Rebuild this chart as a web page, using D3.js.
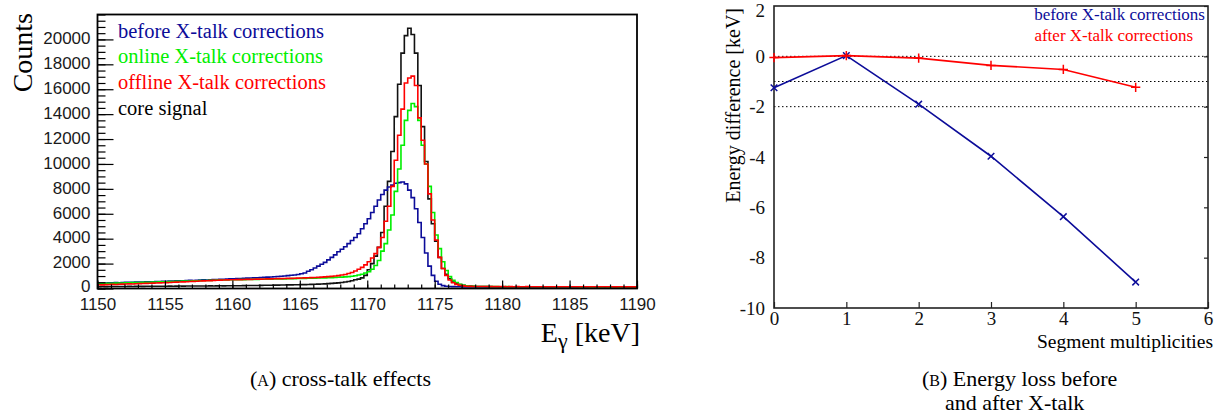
<!DOCTYPE html>
<html>
<head>
<meta charset="utf-8">
<script src="https://cdn.jsdelivr.net/npm/d3@7"></script>
<style>
    body { margin: 0; background: #fff; }
    svg { display: block; }
</style>
</head>
<body>
<svg id="chart" width="1223" height="418"></svg>
<script>
// histogram binning (keV)
const binStart = 1150;
const binWidth = 0.25;

// counts per bin
const countsBefore = [
    430, 440, 435, 450, 455, 470, 460, 480, 490, 500, 495, 510, 520, 515, 530, 545, 540, 560, 565, 580,
    575, 590, 600, 610, 620, 615, 640, 650, 645, 660, 670, 690, 680, 700, 710, 720, 730, 745, 760, 770,
    780, 790, 800, 810, 830, 840, 850, 865, 880, 895, 910, 925, 945, 960, 980, 1000, 1030, 1060, 1090, 1130,
    1180, 1250, 1380, 1500, 1650, 1800, 1950, 2100, 2300, 2500, 2700, 2950, 3150, 3350, 3600, 3850, 4100, 4400, 4800, 5200,
    5600, 6100, 6600, 7100, 7550, 7900, 8150, 8300, 8450, 8500, 8550, 8400, 7900, 7300, 6400, 5300, 4100, 2850, 1800, 1050,
    580, 340, 230, 180, 160, 150, 140, 135, 130, 130, 125, 125, 120, 120, 120, 115, 120, 115, 115, 110,
    110, 115, 110, 105, 110, 110, 105, 110, 105, 100, 105, 110, 105, 100, 105, 100, 100, 105, 100, 100,
    100, 95, 100, 100, 95, 100, 95, 95, 100, 95, 90, 95, 95, 90, 95, 90, 90, 95, 90, 90
];
const countsOnline = [
    400, 390, 410, 420, 415, 430, 440, 445, 450, 460, 470, 475, 480, 490, 500, 505, 515, 520, 530, 540,
    545, 555, 560, 570, 580, 590, 595, 605, 615, 620, 630, 640, 645, 655, 665, 670, 680, 685, 690, 700,
    700, 705, 710, 715, 720, 725, 730, 735, 740, 745, 750, 755, 760, 765, 770, 775, 780, 790, 795, 800,
    810, 815, 820, 830, 835, 840, 850, 855, 865, 875, 890, 900, 915, 930, 950, 980, 1020, 1080, 1150, 1250,
    1350, 1550, 1850, 2250, 3000, 3600, 4700, 5900, 7800, 9600, 11500, 13500, 14300, 14850, 14600, 13500, 11500, 10000, 8200, 6100,
    4300, 3200, 2150, 1450, 950, 650, 480, 340, 260, 210, 185, 170, 165, 160, 155, 155, 150, 150, 150, 145,
    145, 150, 145, 145, 140, 145, 140, 145, 140, 140, 145, 140, 140, 135, 140, 140, 135, 140, 135, 135,
    140, 135, 135, 130, 135, 135, 130, 135, 130, 130, 135, 130, 130, 130, 125, 130, 130, 125, 130, 125
];
const countsOffline = [
    300, 290, 310, 320, 330, 325, 340, 350, 360, 370, 365, 380, 395, 400, 410, 420, 430, 440, 450, 460,
    470, 480, 500, 510, 520, 530, 545, 560, 570, 585, 600, 610, 620, 635, 650, 660, 670, 680, 690, 700,
    705, 710, 715, 720, 730, 735, 740, 750, 755, 760, 770, 775, 780, 790, 795, 800, 810, 815, 820, 830,
    840, 850, 860, 870, 880, 895, 910, 930, 950, 970, 1000, 1030, 1080, 1130, 1200, 1280, 1400, 1550, 1700, 1900,
    2150, 2450, 2800, 3300, 4100, 5400, 6600, 8200, 10300, 12300, 14400, 16500, 16900, 17050, 16300, 13700, 11900, 10000, 7600, 5500,
    3900, 2500, 1600, 1050, 680, 460, 330, 260, 210, 185, 170, 165, 160, 160, 155, 155, 150, 150, 150, 150,
    150, 145, 150, 145, 150, 145, 145, 150, 145, 145, 140, 145, 145, 140, 145, 140, 140, 145, 140, 140,
    140, 140, 135, 140, 140, 135, 140, 135, 135, 140, 135, 135, 135, 130, 135, 135, 130, 135, 130, 130
];
const countsCore = [
    150, 155, 150, 160, 155, 160, 165, 160, 165, 170, 165, 170, 175, 170, 175, 180, 175, 180, 185, 180,
    185, 190, 185, 190, 195, 190, 195, 200, 195, 200, 205, 200, 205, 210, 205, 210, 215, 210, 215, 220,
    220, 225, 225, 230, 235, 235, 240, 245, 250, 255, 260, 265, 270, 275, 280, 285, 290, 295, 300, 305,
    310, 315, 320, 330, 340, 350, 360, 375, 390, 410, 430, 450, 480, 520, 560, 620, 700, 750, 850, 1050,
    1500, 2000, 2600, 3300, 4500, 6600, 8600, 11000, 13800, 16400, 18900, 20300, 20900, 20400, 18900, 16300, 13000, 10200, 7200, 5200,
    3800, 2500, 1600, 1150, 780, 520, 400, 310, 250, 210, 190, 175, 165, 160, 155, 150, 150, 145, 145, 140,
    140, 140, 135, 140, 135, 135, 140, 135, 135, 130, 135, 130, 130, 135, 130, 130, 130, 125, 130, 125,
    125, 130, 125, 125, 120, 125, 125, 120, 125, 120, 120, 125, 120, 120, 120, 115, 120, 120, 115, 120
];

const histLabels = ['before X-talk corrections', 'online X-talk corrections', 'offline X-talk corrections', 'core signal'];
const energyTicks = [1150, 1155, 1160, 1165, 1170, 1175, 1180, 1185, 1190];
const countTicks = [0, 2000, 4000, 6000, 8000, 10000, 12000, 14000, 16000, 18000, 20000];

// energy difference vs segment multiplicity
const multiplicities = [0, 1, 2, 3, 4, 5];
const diffBefore = [-1.25, 0.03, -1.9, -3.97, -6.37, -8.97];
const diffAfter = [-0.05, 0.03, -0.07, -0.36, -0.52, -1.23];
const refLevels = [0, -1, -2];
const multTicks = [0, 1, 2, 3, 4, 5, 6];
const diffTicks = [2, 0, -2, -4, -6, -8, -10];
const diffLabels = ['before X-talk corrections', 'after X-talk corrections'];

const BLUE = '#0c0c99';
const GREEN = '#00ee00';
const RED = '#ff0000';
const sans = '"Liberation Sans", Arial, sans-serif';
const serif = '"Liberation Serif", "Times New Roman", serif';
const plain = d => String(d);   // keep ASCII hyphen for negatives

const svg = d3.select('#chart');

// ---------- left panel ----------
const left = svg.append('g');
const xE = d3.scaleLinear().domain([1150, 1190]).range([97.5, 637]);
const yC = d3.scaleLinear().domain([0, 22000]).range([288.5, 14.5]);

function histPath(values) {
    const pts = values.map((v, i) => [binStart + i * binWidth, v]);
    pts.push([binStart + values.length * binWidth, values[values.length - 1]]);
    return d3.line()
        .x(d => xE(d[0]))
        .y(d => yC(d[1]))
        .curve(d3.curveStepAfter)(pts);
}

const histSeries = [
    { values: countsCore, color: '#111' },
    { values: countsBefore, color: BLUE },
    { values: countsOnline, color: GREEN },
    { values: countsOffline, color: RED }
];
left.selectAll('.hist')
    .data(histSeries)
    .enter()
    .append('path')
    .attr('class', 'hist')
    .attr('d', d => histPath(d.values))
    .style('fill', 'none')
    .style('stroke', d => d.color)
    .style('stroke-width', '1.6px');

// minor ticks
left.append('g')
    .attr('transform', `translate(0,${yC(0)})`)
    .call(d3.axisBottom(xE).tickValues(d3.range(1150, 1191, 1)).tickSize(-4).tickFormat(''))
    .call(g => g.select('.domain').remove());
left.append('g')
    .attr('transform', `translate(${xE(1150)},0)`)
    .call(d3.axisLeft(yC).tickValues(d3.range(0, 22001, 500)).tickSize(-8).tickFormat(''))
    .call(g => g.select('.domain').remove());

// major ticks + labels
const xAxisL = left.append('g')
    .attr('transform', `translate(0,${yC(0)})`)
    .call(d3.axisBottom(xE).tickValues(energyTicks).tickSizeInner(-8).tickSizeOuter(0).tickPadding(9).tickFormat(plain));
const yAxisL = left.append('g')
    .attr('transform', `translate(${xE(1150)},0)`)
    .call(d3.axisLeft(yC).tickValues(countTicks).tickSizeInner(-16).tickSizeOuter(0).tickPadding(7).tickFormat(plain));
[xAxisL, yAxisL].forEach(g => {
    g.select('.domain').remove();
    g.selectAll('text').style('font-family', sans).style('font-size', '17px').style('fill', '#1a1a1a');
});
yAxisL.selectAll('text').attr('dy', (d, i) => i === 0 ? '0.15em' : '0.25em');
left.selectAll('.tick line').style('stroke', '#000').style('stroke-width', '1.2px');

left.append('rect')
    .attr('x', xE(1150)).attr('y', yC(22000))
    .attr('width', xE(1190) - xE(1150)).attr('height', yC(0) - yC(22000))
    .style('fill', 'none').style('stroke', '#000').style('stroke-width', '1.8px');

// legend (text only)
const legendColors = [BLUE, GREEN, RED, '#000'];
left.selectAll('.leg')
    .data(histLabels)
    .enter()
    .append('text')
    .attr('x', 118)
    .attr('y', (d, i) => 37.5 + i * 25.8)
    .text(d => d)
    .style('font-family', serif)
    .style('font-size', '20.5px')
    .style('fill', (d, i) => legendColors[i]);

left.append('text')
    .attr('transform', 'translate(32,13) rotate(-90)')
    .attr('text-anchor', 'end')
    .text('Counts')
    .style('font-family', serif)
    .style('font-size', '28px');

const eTitle = left.append('text')
    .attr('x', 640).attr('y', 341.5)
    .attr('text-anchor', 'end')
    .style('font-family', serif)
    .style('font-size', '28px');
eTitle.append('tspan').text('E');
eTitle.append('tspan').attr('dy', 6).style('font-size', '22px').text('γ');
eTitle.append('tspan').attr('dy', -6).text(' [keV]');

// ---------- right panel ----------
const right = svg.append('g');
const xM = d3.scaleLinear().domain([0, 6]).range([774, 1208]);
const yD = d3.scaleLinear().domain([-10, 2]).range([308, 6]);

right.selectAll('.ref')
    .data(refLevels)
    .enter()
    .append('line')
    .attr('x1', xM(0)).attr('x2', xM(6))
    .attr('y1', d => yD(d)).attr('y2', d => yD(d))
    .style('stroke', '#000')
    .style('stroke-width', '1px')
    .style('stroke-dasharray', '1.5,2.5');

const xAxisR = right.append('g')
    .attr('transform', `translate(0,${yD(-10)})`)
    .call(d3.axisBottom(xM).tickValues(multTicks).tickSizeInner(-6).tickSizeOuter(0).tickPadding(3).tickFormat(plain));
const yAxisR = right.append('g')
    .attr('transform', `translate(${xM(0)},0)`)
    .call(d3.axisLeft(yD).tickValues(diffTicks).tickSizeInner(0).tickSizeOuter(0).tickPadding(9).tickFormat(plain));
const yAxisR2 = right.append('g')
    .attr('transform', `translate(${xM(6)},0)`)
    .call(d3.axisRight(yD).tickValues(diffTicks).tickSizeInner(-4).tickSizeOuter(0).tickFormat(''));
[xAxisR, yAxisR, yAxisR2].forEach(g => {
    g.select('.domain').remove();
    g.selectAll('text').style('font-family', serif).style('font-size', '19px').style('fill', '#111');
});
yAxisR.selectAll('text').attr('dy', (d, i) => i === 0 ? '0.55em' : '0.32em');
right.selectAll('.tick line').style('stroke', '#222').style('stroke-width', '1.2px');

right.append('rect')
    .attr('x', xM(0)).attr('y', yD(2))
    .attr('width', xM(6) - xM(0)).attr('height', yD(-10) - yD(2))
    .style('fill', 'none').style('stroke', '#222').style('stroke-width', '1.6px');

const diffSeries = [
    { values: diffBefore, color: BLUE, symbol: d3.symbolTimes || d3.symbolCross },
    { values: diffAfter, color: RED, symbol: d3.symbolPlus || d3.symbolCross }
];
const diffLine = d3.line()
    .x((d, i) => xM(multiplicities[i]))
    .y(d => yD(d));
diffSeries.forEach(s => {
    right.append('path')
        .attr('d', diffLine(s.values))
        .style('fill', 'none')
        .style('stroke', s.color)
        .style('stroke-width', '1.6px');
    right.selectAll(null)
        .data(s.values)
        .enter()
        .append('path')
        .attr('transform', (d, i) => `translate(${xM(multiplicities[i])},${yD(d)})`)
        .attr('d', d3.symbol().type(s.symbol).size(30))
        .style('fill', 'none')
        .style('stroke', s.color)
        .style('stroke-width', '1.5px');
});

right.selectAll('.dleg')
    .data(diffLabels)
    .enter()
    .append('text')
    .attr('x', (d, i) => i === 0 ? 1205 : 1193)
    .attr('y', (d, i) => 19.5 + i * 21)
    .attr('text-anchor', 'end')
    .text(d => d)
    .style('font-family', serif)
    .style('font-size', '17px')
    .style('fill', (d, i) => i === 0 ? BLUE : RED);

right.append('text')
    .attr('transform', 'translate(740,8) rotate(-90)')
    .attr('text-anchor', 'end')
    .text('Energy difference [keV]')
    .style('font-family', serif)
    .style('font-size', '20px');

right.append('text')
    .attr('x', 1213).attr('y', 348)
    .attr('text-anchor', 'end')
    .text('Segment multiplicities')
    .style('font-family', serif)
    .style('font-size', '19.5px');

// ---------- captions ----------
function caption(x, y, tag, rest) {
    const t = svg.append('text')
        .attr('x', x).attr('y', y)
        .style('font-family', serif)
        .style('font-size', '22px');
    t.append('tspan').text('(');
    t.append('tspan').style('font-size', '16px').text(tag);
    t.append('tspan').text(') ' + rest);
    return t;
}
caption(250, 386, 'A', 'cross-talk effects');
caption(922, 386, 'B', 'Energy loss before');
svg.append('text')
    .attr('x', 945).attr('y', 410)
    .text('and after X-talk')
    .style('font-family', serif)
    .style('font-size', '22px');
</script>
</body>
</html>
